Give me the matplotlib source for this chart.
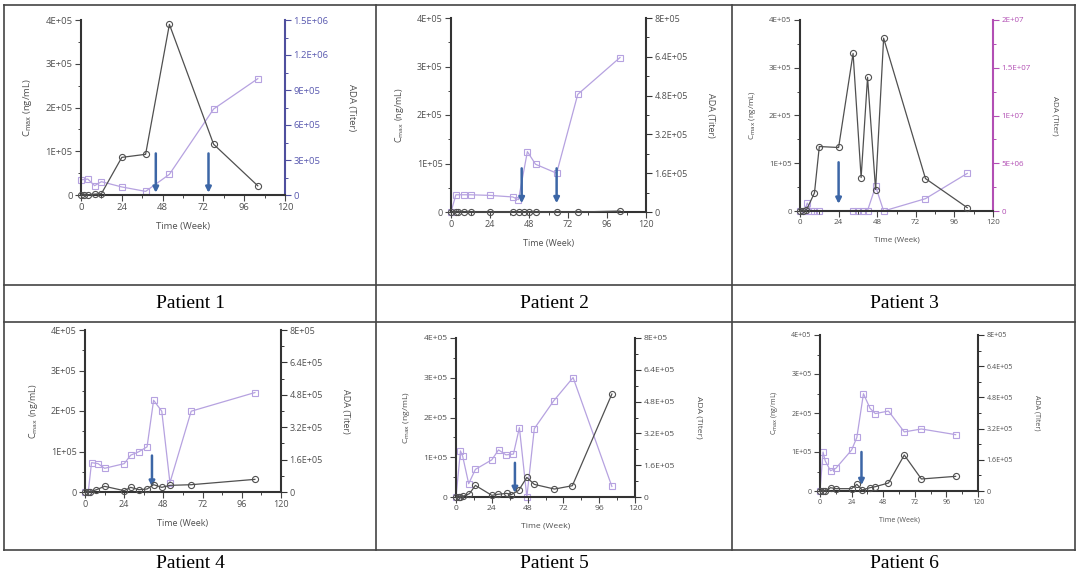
import numpy as np
import matplotlib.pyplot as plt
from matplotlib.lines import Line2D
from matplotlib.ticker import MultipleLocator

plt.rcParams['font.family'] = ['Open Sans', 'DejaVu Sans']

# ---- data ----
# Cmax (ng/mL), left axis
t_c1 = [0, 2, 4, 8, 12, 24, 38, 52, 78, 104]
c1 = [0, 0, 0, 2e3, 3e3, 8.6e4, 9.3e4, 3.9e5, 1.16e5, 2.1e4]
t_c2 = [0, 3, 4, 8, 12, 24, 38, 42, 45, 48, 52, 65, 78, 104]
c2 = [0, 0, 0, 0, 0, 0, 0, 0, 0, 0, 0, 0, 0, 2e3]
t_c3 = [0, 2, 4, 9, 12, 24, 33, 38, 42, 47, 52, 78, 104]
c3 = [0, 0, 2e3, 3.8e4, 1.35e5, 1.33e5, 3.3e5, 7.0e4, 2.8e5, 4.5e4, 3.62e5, 6.8e4, 7e3]
t_c4 = [0, 2, 3, 7, 12, 24, 28, 33, 38, 42, 47, 52, 65, 104]
c4 = [0, 0, 0, 5.7e3, 1.4e4, 3.3e3, 1.15e4, 5.7e3, 7.4e3, 1.8e4, 1.15e4, 1.64e4, 1.8e4, 3.12e4]
t_c5 = [0, 2, 3, 5, 9, 13, 24, 28, 34, 37, 42, 47.5, 52.5, 66, 78, 104.5]
c5 = [0, 0, 0, 2e3, 8.4e3, 2.92e4, 4.2e3, 6.7e3, 9.2e3, 5.8e3, 1.67e4, 4.93e4, 3.17e4, 2.0e4, 2.84e4, 2.59e5]
t_c6 = [0, 2, 4, 8, 12, 24, 28, 32, 38, 42, 52, 64, 77, 103]
c6 = [0, 0, 0, 8.5e3, 6e3, 6e3, 1.71e4, 2.6e3, 8.5e3, 1.11e4, 2.05e4, 9.23e4, 3.08e4, 3.76e4]

# ADA titer, right axis
t_a1 = [0, 4, 8, 12, 24, 38, 52, 78, 104]
a1 = [1.3e5, 1.37e5, 8.0e4, 1.14e5, 6.9e4, 3.1e4, 1.77e5, 7.37e5, 9.97e5]
t_a2 = [0, 3, 8, 12, 24, 38, 41.5, 47, 52, 65, 78, 104]
a2 = [0, 7.1e4, 7.1e4, 7.1e4, 6.85e4, 6.2e4, 5.1e4, 2.49e5, 1.97e5, 1.6e5, 4.85e5, 6.37e5]
t_a3 = [0, 3, 4.5, 7, 9, 12, 33, 36, 39, 42, 47, 52, 78, 104]
a3 = [0, 5e4, 8.4e5, 5e4, 0, 0, 5e4, 5e4, 5e4, 5e4, 2.58e6, 0, 1.29e6, 3.94e6]
t_a4 = [0, 2, 4, 8, 12, 24, 28, 33, 38, 42, 47, 52, 65, 104]
a4 = [0, 0, 1.45e5, 1.4e5, 1.17e5, 1.4e5, 1.82e5, 1.99e5, 2.23e5, 4.53e5, 3.99e5, 4.6e4, 3.99e5, 4.91e5]
t_a5 = [0, 3, 4.5, 8.5, 13, 24, 28.5, 33.5, 38.5, 42.5, 47.5, 52.5, 65.5, 78.5, 104.5]
a5 = [0, 2.32e5, 2.04e5, 6.7e4, 1.39e5, 1.87e5, 2.37e5, 2.12e5, 2.16e5, 3.49e5, 0, 3.44e5, 4.84e5, 6.01e5, 5.3e4]
t_a6 = [0, 2.3, 4, 8, 12, 24, 28, 33, 38, 42, 52, 64, 77, 103]
a6 = [0, 2.0e5, 1.54e5, 1.04e5, 1.16e5, 2.1e5, 2.75e5, 4.99e5, 4.24e5, 3.97e5, 4.1e5, 3.03e5, 3.18e5, 2.89e5]

# dosing arrows: week, top, bottom (left axis units)
arr_t = [[44, 75], [43.5, 65], [24], [41], [39.5], [31.5]]
arr_top = [9.5e4, 9e4, 1.02e5, 9e4, 8.6e4, 1e5]
arr_bot = [5e3, 1.8e4, 1.5e4, 1.3e4, 1e4, 1.5e4]

left_ticks = [0, 1e5, 2e5, 3e5, 4e5]
left_labels = ['0', '1E+05', '2E+05', '3E+05', '4E+05']
r8_ticks = [0, 1.6e5, 3.2e5, 4.8e5, 6.4e5, 8e5]
r8_labels = ['0', '1.6E+05', '3.2E+05', '4.8E+05', '6.4E+05', '8E+05']
r15_ticks = [0, 3e5, 6e5, 9e5, 1.2e6, 1.5e6]
r15_labels = ['0', '3E+05', '6E+05', '9E+05', '1.2E+06', '1.5E+06']
r20_ticks = [0, 5e6, 1e7, 1.5e7, 2e7]
r20_labels = ['0', '5E+06', '1E+07', '1.5E+07', '2E+07']
x_ticks = [0, 24, 48, 72, 96, 120]
captions = ['Patient 1', 'Patient 2', 'Patient 3', 'Patient 4', 'Patient 5', 'Patient 6']

cmax = [(t_c1, c1), (t_c2, c2), (t_c3, c3), (t_c4, c4), (t_c5, c5), (t_c6, c6)]
ada = [(t_a1, a1), (t_a2, a2), (t_a3, a3), (t_a4, a4), (t_a5, a5), (t_a6, a6)]
right = [(r15_ticks, r15_labels), (r8_ticks, r8_labels), (r20_ticks, r20_labels),
         (r8_ticks, r8_labels), (r8_ticks, r8_labels), (r8_ticks, r8_labels)]

# panel boxes in pixels: x0, x1, ytop, ybottom
boxes = [(81, 285, 20, 195), (451, 646, 18, 212), (800, 993, 20, 211),
         (85, 281, 330, 492), (456, 635, 338, 497), (820, 978, 335, 491)]
rcolor = ['#4f4f9e', '#333333', '#b24fb4', '#333333', '#333333', '#333333']
rtext = ['#5a5ab0', '#505050', '#b24fb4', '#505050', '#505050', '#505050']
fscale = [1.0, 0.95, 0.85, 0.95, 0.9, 0.75]

W, H = 1080, 580
fig = plt.figure(figsize=(W / 100, H / 100), dpi=100)

BLK = '#505050'
PUR = '#b6a2e0'
ARR = '#3c66a6'

for i in range(6):
    x0, x1, yt, yb = boxes[i]
    fs = 6.8 * fscale[i]
    ax = fig.add_axes([x0 / W, 1 - yb / H, (x1 - x0) / W, (yb - yt) / H])
    ax2 = ax.twinx()
    ax.set_zorder(ax2.get_zorder() + 1)
    ax.patch.set_visible(False)

    ax.plot(cmax[i][0], cmax[i][1], color=BLK, lw=0.9, marker='o', ms=4.4,
            mfc='none', mec=BLK, mew=0.8, clip_on=False, zorder=4)
    ax2.plot(ada[i][0], ada[i][1], color=PUR, lw=0.9, marker='s', ms=4.2,
             mfc='none', mec=PUR, mew=0.8, clip_on=False)
    for t in arr_t[i]:
        ax.annotate('', xy=(t, arr_bot[i]), xytext=(t, arr_top[i]),
                    arrowprops=dict(arrowstyle='-|>', color=ARR, lw=1.8,
                                    mutation_scale=8, shrinkA=0, shrinkB=0))

    ax.set_xlim(0, 120)
    ax.set_ylim(0, 4e5)
    ax.set_xticks(x_ticks)
    ax.set_xticklabels([str(v) for v in x_ticks])
    ax.xaxis.set_minor_locator(MultipleLocator(12))
    ax.set_yticks(left_ticks)
    ax.set_yticklabels(left_labels)
    ax.yaxis.set_minor_locator(MultipleLocator(5e4))
    rt, rl = right[i]
    ax2.set_ylim(0, rt[-1])
    ax2.set_yticks(rt)
    ax2.set_yticklabels(rl)
    ax2.yaxis.set_minor_locator(MultipleLocator((rt[1] - rt[0]) / 2))

    for a in (ax, ax2):
        a.spines['top'].set_visible(False)
    ax.spines['right'].set_visible(False)
    ax2.spines['left'].set_visible(False)
    ax2.spines['bottom'].set_visible(False)
    ax.spines['left'].set_color('#333333')
    ax.spines['bottom'].set_color('#333333')
    ax.spines['left'].set_linewidth(1.5)
    ax.spines['bottom'].set_linewidth(1.5)
    ax2.spines['right'].set_color(rcolor[i])
    ax2.spines['right'].set_linewidth(1.5)

    ax.tick_params(which='major', length=4, width=0.8, color='#444444',
                   labelsize=fs, labelcolor='#505050', pad=2)
    ax.tick_params(which='minor', length=2.5, width=0.7, color='#444444')
    ax2.tick_params(which='major', length=4, width=0.8, color=rcolor[i],
                    labelsize=fs, labelcolor=rtext[i], pad=2)
    ax2.tick_params(which='minor', length=2.5, width=0.7, color=rcolor[i])

    ax.set_xlabel('Time (Week)', fontsize=fs, color='#505050', labelpad=7)
    ax.set_ylabel(r'C$_{\mathrm{max}}$ (ng/mL)', fontsize=fs, color='#505050', labelpad=8)
    ax2.set_ylabel('ADA (Titer)', fontsize=fs, color='#505050', rotation=270, labelpad=20)

# table grid
lc = '#444444'
for x in [4, 376, 732, 1075]:
    fig.add_artist(Line2D([x / W, x / W], [1 - 5 / H, 1 - 550 / H], color=lc, lw=1.2))
for y in [5, 285, 322, 550]:
    fig.add_artist(Line2D([4 / W, 1075 / W], [1 - y / H, 1 - y / H], color=lc, lw=1.2))

cap_x = [190, 554, 904]
cap_y = [303, 563]
for i in range(6):
    fig.text(cap_x[i % 3] / W, 1 - cap_y[i // 3] / H, captions[i],
             family='Liberation Serif', fontsize=14, ha='center', va='center')

fig.savefig('out.png', dpi=100)
